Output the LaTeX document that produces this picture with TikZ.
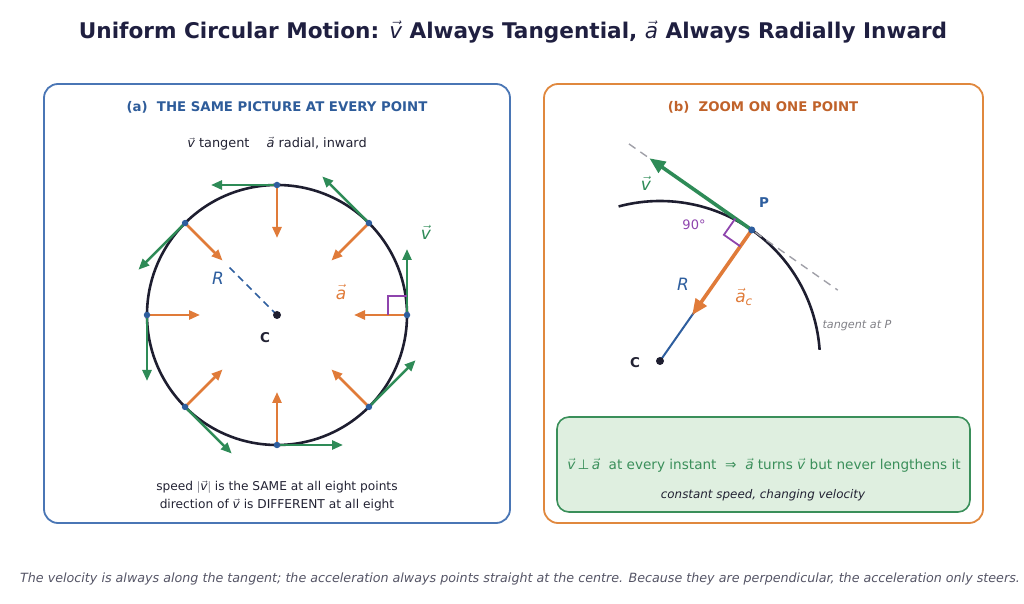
\documentclass[tikz,border=0pt]{standalone}
\usepackage{fontspec}
\setmainfont{DejaVu Sans}
\usepackage{amsmath}
\usetikzlibrary{arrows.meta,calc}
\definecolor{titlec}{HTML}{1F1F40}
\definecolor{pblue}{HTML}{4A76B5}
\definecolor{hblue}{HTML}{2E5C9A}
\definecolor{porange}{HTML}{E0883E}
\definecolor{horange}{HTML}{C0622A}
\definecolor{vgreen}{HTML}{2E8B57}
\definecolor{aorange}{HTML}{E07B39}
\definecolor{circc}{HTML}{1E1E30}
\definecolor{dotblue}{HTML}{2E5E9E}
\definecolor{rpurple}{HTML}{8E44AD}
\definecolor{tgray}{HTML}{A0A0A8}
\definecolor{boxfill}{HTML}{DFEFE0}
\definecolor{boxgreen}{HTML}{3A8F5A}
\definecolor{capgray}{HTML}{555566}
\definecolor{textdark}{HTML}{222233}
\newcommand\vv[1]{\ensuremath{\vec{\text{\normalfont\itshape #1}}}}
\tikzset{
  panel/.style={rounded corners=14pt, line width=1.8pt},
  vel/.style={draw=vgreen, line width=2.6pt, -{Triangle[length=11pt,width=9pt]}},
  acc/.style={draw=aorange, line width=2.6pt, -{Triangle[length=11pt,width=9pt]}},
  bvel/.style={draw=vgreen, line width=3.6pt, -{Triangle[length=16pt,width=13pt]}},
  bacc/.style={draw=aorange, line width=3.6pt, -{Triangle[length=16pt,width=13pt]}},
  ptdot/.style={circle, fill=dotblue, inner sep=0pt, minimum size=6.5pt},
  cdot/.style={circle, fill=circc, inner sep=0pt, minimum size=8pt},
  rmark/.style={draw=rpurple, line width=1.8pt},
  lbl/.style={inner sep=0pt, font=\fontsize{17}{19}\selectfont},
}
\begin{document}
\begin{tikzpicture}[x=1pt,y=1pt]
\useasboundingbox (0,0) rectangle (1024,604);
% title
\node[text=titlec, font=\fontsize{21.6}{25}\selectfont\bfseries] (title) at (513,572)
  {Uniform Circular Motion: \vv{v} Always Tangential, \vv{a} Always Radially Inward};
% panels
\draw[panel, draw=pblue] (44,520) rectangle (510,81);
\draw[panel, draw=porange] (544,520) rectangle (983,81);
\node[text=hblue, font=\fontsize{13.3}{15}\selectfont\bfseries] (ha) at (277,497) {(a)\ \ THE SAME PICTURE AT EVERY POINT};
\node[text=horange, font=\fontsize{13.3}{15}\selectfont\bfseries] (hb) at (763,497) {(b)\ \ ZOOM ON ONE POINT};
\node[text=textdark, font=\fontsize{12.9}{15}\selectfont] (sub) at (277,460) {\vv{v} tangent\quad\ \vv{a} radial, inward};
% ---------- panel (a)
\coordinate (C) at (277,289);
\draw[circc, line width=2.6pt] (C) circle[radius=130];
\coordinate (Rend) at ($(C)+(135:70)$);
\draw[dotblue, line width=1.6pt, dash pattern=on 7pt off 5pt] (C) -- (Rend);
\foreach \k in {0,...,7} {
  \pgfmathsetmacro\ang{45*\k}
  \coordinate (p\k) at ($(C)+(\ang:130)$);
  \coordinate (v\k) at ($(p\k)+(\ang+90:66)$);
  \coordinate (a\k) at ($(p\k)+(\ang+180:53)$);
  \draw[acc] (p\k) -- (a\k);
  \draw[vel] (p\k) -- (v\k);
}
\draw[rmark] ($(p0)+(-19,0)$) -- ($(p0)+(-19,19)$) -- ($(p0)+(0,19)$);
\foreach \k in {0,...,7} { \node[ptdot] (d\k) at (p\k) {}; }
\node[cdot] (cd) at (C) {};
\node[font=\fontsize{13.5}{15}\selectfont\bfseries, text=textdark] (Clab) at (265,266) {C};
\node[lbl, text=dotblue] (Rlab) at (218,326) {\textit{R}};
\node[lbl, text=aorange] (alab) at (341,312) {\vv{a}};
\node[lbl, text=vgreen] (vlab) at (426,372) {\vv{v}};
\node[text=textdark, font=\fontsize{12.2}{14}\selectfont] (b1) at (277,117) {speed $|$\vv{v}$|$ is the SAME at all eight points};
\node[text=textdark, font=\fontsize{12.2}{14}\selectfont] (b2) at (277,99) {direction of \vv{v} is DIFFERENT at all eight};
% ---------- panel (b)
\coordinate (CB) at (660,243);
\draw[circc, line width=2.6pt] ($(CB)+(105:160)$) arc[start angle=105, end angle=4, radius=160];
\coordinate (P) at ($(CB)+(55:160)$);
\coordinate (T1) at ($(P)+(145:150)$);
\coordinate (T2) at ($(P)+(-35:105)$);
\draw[tgray, line width=1.4pt, dash pattern=on 8pt off 6pt] (T1) -- (T2);
\draw[dotblue, line width=2pt] (CB) -- (P);
\coordinate (VT) at ($(P)+(145:125)$);
\coordinate (AT) at ($(P)+(235:104)$);
\draw[bvel] (P) -- (VT);
\draw[bacc] (P) -- (AT);
\draw[rmark] ($(P)+(145:20)$) -- ($(P)+(145:20)+(235:20)$) -- ($(P)+(235:20)$);
\node[ptdot, minimum size=7pt] (Pd) at (P) {};
\node[cdot] (CBd) at (CB) {};
\node[font=\fontsize{13.5}{15}\selectfont\bfseries, text=textdark] (CBlab) at (635,241) {C};
\node[font=\fontsize{13.5}{15}\selectfont\bfseries, text=dotblue] (Plab) at (764,401) {P};
\node[font=\fontsize{13}{15}\selectfont, text=rpurple] (deg) at (694,379) {90°};
\node[lbl, text=vgreen] (vb) at (646,421) {\vv{v}};
\node[lbl, text=dotblue] (Rb) at (683,320) {\textit{R}};
\node[lbl, text=aorange] (ab) at (744,307) {\ensuremath{\vec{\text{\normalfont\itshape a}}_{\text{\normalfont\itshape c}}}};
\node[text=tgray!80!black, font=\fontsize{11.2}{13}\selectfont\itshape] (tlab) at (857,278) {tangent at P};
% green box
\draw[rounded corners=12pt, line width=1.6pt, draw=boxgreen, fill=boxfill] (557,187) rectangle (970,92);
\node[text=boxgreen, font=\fontsize{13.6}{16}\selectfont] (g1) at (764,139)
  {\vv{v}\,⊥\,\vv{a}\ \ at every instant\ \ ⇒\ \ \vv{a} turns \vv{v} but never lengthens it};
\node[text=textdark, font=\fontsize{11.9}{14}\selectfont\itshape] (g2) at (763,109) {constant speed, changing velocity};
% caption
\node[text=capgray, font=\fontsize{12.7}{14}\selectfont\itshape] (cap) at (520,25)
  {The velocity is always along the tangent; the acceleration always points straight at the centre. Because they are perpendicular, the acceleration only steers.};
\end{tikzpicture}
\end{document}
